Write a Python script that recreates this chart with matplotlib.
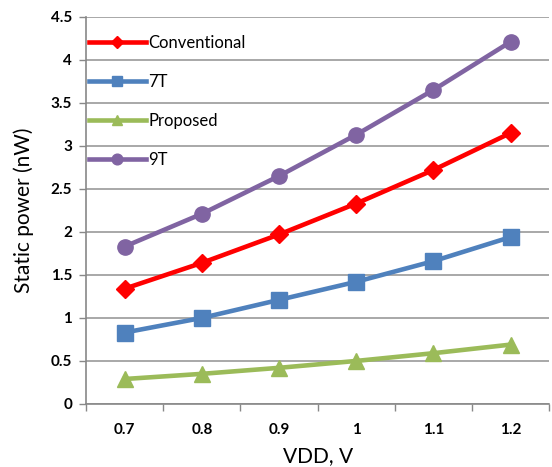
import matplotlib.pyplot as plt

vdd = ["0.7", "0.8", "0.9", "1", "1.1", "1.2"]
conventional = [1.34, 1.64, 1.97, 2.33, 2.72, 3.15]
sram_7t = [0.83, 1.00, 1.21, 1.42, 1.66, 1.94]
proposed = [0.29, 0.35, 0.42, 0.50, 0.59, 0.69]
sram_9t = [1.83, 2.21, 2.65, 3.13, 3.65, 4.21]

plt.rcParams['font.family'] = ['Lato', 'DejaVu Sans']

fig = plt.figure(figsize=(5.52, 4.67), dpi=100)
ax = fig.add_axes([0.156, 0.135, 0.839, 0.829])

x = list(range(len(vdd)))
series = [
    ("Conventional", conventional, "#FF0000", "D", 9),
    ("7T", sram_7t, "#4F81BD", "s", 11),
    ("Proposed", proposed, "#9BBB59", "^", 11),
    ("9T", sram_9t, "#8064A2", "o", 11),
]
for name, vals, color, marker, ms in series:
    ax.plot(x, vals, color=color, lw=3.3, marker=marker, markersize=ms,
            label=name, zorder=3)

ax.set_xlim(-0.5, len(vdd) - 0.5)
ax.set_ylim(0, 4.5)
ax.set_yticks([i * 0.5 for i in range(10)])
ax.set_yticklabels(["0", "0.5", "1", "1.5", "2", "2.5", "3", "3.5", "4", "4.5"],
                   fontweight='bold', fontsize=11)
ax.set_xticks(x)
ax.set_xticklabels(vdd, fontweight='bold', fontsize=11)
ax.tick_params(axis='x', length=0, pad=14)
ax.set_xticks([i - 0.5 for i in range(len(vdd) + 1)], minor=True)
ax.tick_params(axis='x', which='minor', length=5, color='#888888', width=1)
ax.tick_params(axis='y', length=5, color='#888888', width=1, pad=5)

ax.grid(axis='y', color='#9A9A9A', lw=1.2, zorder=0)
for side in ['top', 'right']:
    ax.spines[side].set_visible(False)
for side in ['left', 'bottom']:
    ax.spines[side].set_color('#888888')
    ax.spines[side].set_linewidth(1.2)

ax.set_xlabel("VDD, V", fontsize=15, labelpad=6)
ax.set_ylabel("Static power (nW)", fontsize=15, labelpad=12)

ax.legend(loc='upper left', bbox_to_anchor=(-0.012, 0.975), frameon=False,
          fontsize=12, handlelength=3.4, labelspacing=1.38, handletextpad=0.15,
          borderaxespad=0.1, markerscale=0.7)

fig.savefig("out.png", dpi=100)
